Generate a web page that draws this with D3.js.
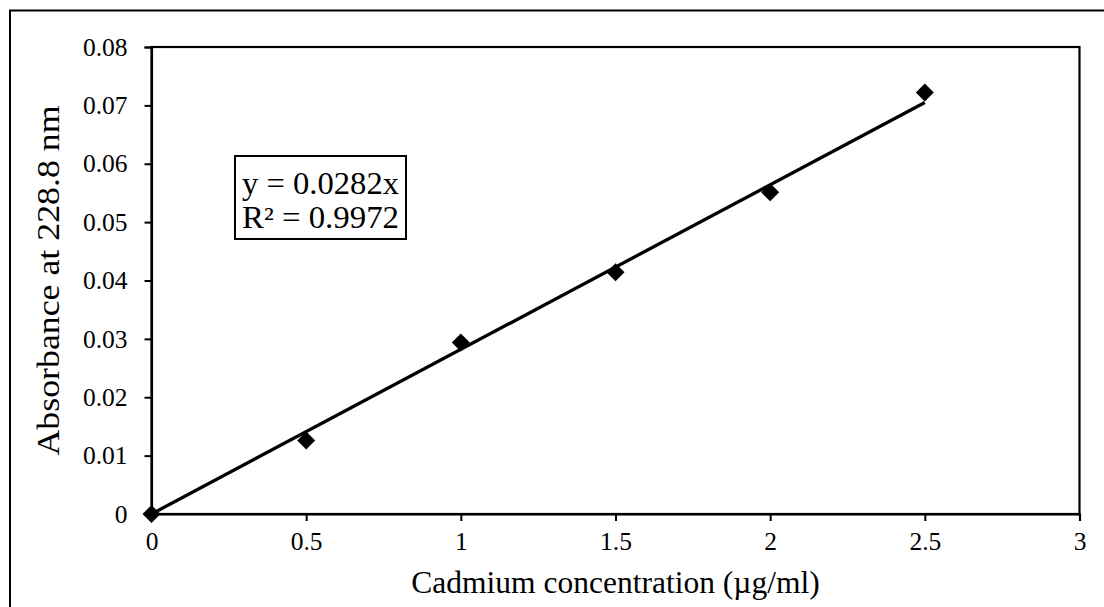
<!DOCTYPE html>
<html><head><meta charset="utf-8">
<script src="https://cdn.jsdelivr.net/npm/d3@7"></script>
<style>
body{margin:0;background:#fff;}
text{font-family:"Liberation Serif","Times New Roman",serif;fill:#000;}
</style></head><body>
<svg id="c" width="1104" height="607"></svg>
<script>
const concentrations = [0, 0.5, 1, 1.5, 2, 2.5];
const absorbance = [0, 0.0126, 0.0294, 0.0414, 0.0551, 0.0722];
const slope = 0.0282;
const xTicks = [0, 0.5, 1, 1.5, 2, 2.5, 3];
const yTicks = [0, 0.01, 0.02, 0.03, 0.04, 0.05, 0.06, 0.07, 0.08];
const equationLines = ["y = 0.0282x", "R\u00B2 = 0.9972"];

const svg = d3.select("#c");
const L = 151.5, R = 1079.5, T = 47, B = 514;
// outer chart border
svg.append("rect").attr("x",10).attr("y",10.5).attr("width",1110).attr("height",620)
  .attr("fill","none").attr("stroke","#000").attr("stroke-width",2);

const x = d3.scaleLinear().domain([0,3]).range([L,R]);
const y = d3.scaleLinear().domain([0,0.08]).range([B,T]);

svg.append("rect").attr("x",L).attr("y",T).attr("width",R-L).attr("height",B-T)
  .attr("fill","none").attr("stroke","#000").attr("stroke-width",2.2);

const yAxis = svg.append("g").attr("transform",`translate(${L},0)`)
  .call(d3.axisLeft(y).tickValues(yTicks).tickSize(7).tickPadding(17)
    .tickFormat(d => d === 0 ? "0" : d3.format(".2f")(d)));
const xAxis = svg.append("g").attr("transform",`translate(0,${B})`)
  .call(d3.axisBottom(x).tickValues(xTicks).tickSize(7).tickPadding(11)
    .tickFormat(d => String(d)));
[yAxis,xAxis].forEach(g=>{
  g.select(".domain").attr("stroke","#000").attr("stroke-width",2.2);
  g.selectAll(".tick line").attr("stroke","#000").attr("stroke-width",2);
  g.selectAll(".tick text").attr("font-size",25.5).attr("font-family","Liberation Serif");
});

// trendline
svg.append("line")
  .attr("x1",x(0)).attr("y1",y(0))
  .attr("x2",x(d3.max(concentrations))).attr("y2",y(slope*d3.max(concentrations)))
  .attr("stroke","#000").attr("stroke-width",3.3);

// diamonds
svg.selectAll("path.pt").data(concentrations.map((c,i)=>[c,absorbance[i]]))
  .enter().append("path").attr("class","pt")
  .attr("transform",d=>`translate(${x(d[0])},${y(d[1])})`)
  .attr("d","M0,-9L9,0L0,9L-9,0Z").attr("fill","#000");

// equation box
const box = svg.append("g");
box.append("rect").attr("x",235).attr("y",156).attr("width",171).attr("height",83)
  .attr("fill","#fff").attr("stroke","#000").attr("stroke-width",2);
box.selectAll("text").data(equationLines).enter().append("text")
  .attr("x",242).attr("y",(d,i)=>194+i*34).attr("font-size",31)
  .attr("textLength",157).attr("lengthAdjust","spacingAndGlyphs")
  .text(d=>d);

// axis titles
svg.append("text").attr("x",(L+R)/2).attr("y",593).attr("text-anchor","middle")
  .attr("font-size",31.5).text("Cadmium concentration (\u00B5g/ml)");
svg.append("text").attr("transform",`translate(59,${(T+B)/2}) rotate(-90)`)
  .attr("text-anchor","middle").attr("font-size",31.5)
  .attr("textLength",350).attr("lengthAdjust","spacingAndGlyphs")
  .text("Absorbance at 228.8 nm");
</script></body></html>
